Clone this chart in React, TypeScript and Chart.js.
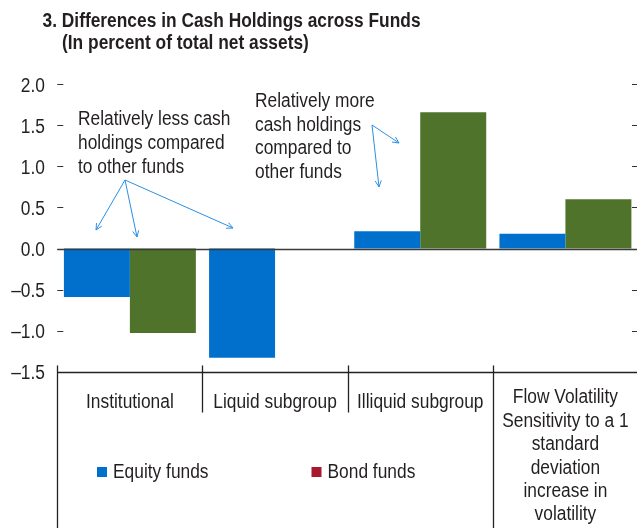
import React, { useEffect, useRef } from "react";
import { Chart, registerables } from "chart.js";

Chart.register(...registerables);

const categories = ["Institutional", "Liquid subgroup", "Illiquid subgroup", "Flow Volatility"];
const categoryLabelLines = [
  ["Institutional"],
  ["Liquid subgroup"],
  ["Illiquid subgroup"],
  ["Flow Volatility", "Sensitivity to a 1", "standard", "deviation", "increase in", "volatility"],
];
const equityValues = [-0.59, -1.33, 0.21, 0.18];
const bondValues = [-1.03, null, 1.66, 0.6];
const yTicks = [2.0, 1.5, 1.0, 0.5, 0.0, -0.5, -1.0, -1.5];
const titleLines = ["3. Differences in Cash Holdings across Funds", "(In percent of total net assets)"];
const lessNote = ["Relatively less cash", "holdings compared", "to other funds"];
const moreNote = ["Relatively more", "cash holdings", "compared to", "other funds"];
const legendLabels = ["Equity funds", "Bond funds"];

const FONT = '"Liberation Sans", Arial, sans-serif';
const SX = 0.89;
const BLUE = "#0070cc";
const GREEN = "#4f732b";
const RED = "#a6192e";
const TEXT = "#231f20";
const ARROW = "#2b8ee6";

function fmt(v: number) {
  const s = Math.abs(v).toFixed(1);
  return v < 0 ? "\u2013" + s : s;
}

function txt(ctx: CanvasRenderingContext2D, s: string, x: number, y: number, align: CanvasTextAlign) {
  ctx.save();
  ctx.translate(x, y);
  ctx.scale(SX, 1);
  ctx.textAlign = align;
  ctx.textBaseline = "alphabetic";
  ctx.fillText(s, 0, 0);
  ctx.restore();
}

function arrow(ctx: CanvasRenderingContext2D, x0: number, y0: number, x1: number, y1: number) {
  ctx.beginPath();
  ctx.moveTo(x0, y0);
  ctx.lineTo(x1, y1);
  const a = Math.atan2(y1 - y0, x1 - x0);
  const h = 7;
  const s = 0.45;
  ctx.moveTo(x1 - h * Math.cos(a - s), y1 - h * Math.sin(a - s));
  ctx.lineTo(x1, y1);
  ctx.lineTo(x1 - h * Math.cos(a + s), y1 - h * Math.sin(a + s));
  ctx.stroke();
}

const decor = {
  id: "decor",
  afterDatasetsDraw(chart: any) {
    const ctx: CanvasRenderingContext2D = chart.ctx;
    const { left, right, bottom } = chart.chartArea;
    const y = chart.scales.y;
    const x = chart.scales.x;
    ctx.save();
    // title
    ctx.fillStyle = TEXT;
    ctx.font = `bold 19.5px ${FONT}`;
    txt(ctx, titleLines[0], 42.5, 26.7, "left");
    txt(ctx, titleLines[1], 62, 49, "left");

    // y ticks
    ctx.font = `19.5px ${FONT}`;
    ctx.strokeStyle = "#333";
    ctx.lineWidth = 1;
    for (const t of yTicks) {
      const yy = y.getPixelForValue(t);
      txt(ctx, fmt(t), 45, yy + 7.5, "right");
      const py = Math.round(yy) + 0.5;
      ctx.beginPath();
      ctx.moveTo(left, py);
      ctx.lineTo(left + 6, py);
      ctx.moveTo(632, py);
      ctx.lineTo(right, py);
      ctx.stroke();
    }

    // zero line
    const zy = Math.round(y.getPixelForValue(0)) + 0.5;
    ctx.strokeStyle = "#3a3a3a";
    ctx.lineWidth = 1.3;
    ctx.beginPath();
    ctx.moveTo(left, zy);
    ctx.lineTo(right, zy);
    ctx.stroke();

    // bottom axis and separators
    const by = Math.round(bottom) + 0.5;
    ctx.lineWidth = 1.3;
    ctx.strokeStyle = "#222";
    ctx.beginPath();
    ctx.moveTo(left, by);
    ctx.lineTo(right, by);
    const catW = (right - left) / categories.length;
    for (let i = 0; i <= categories.length; i++) {
      const sx = Math.round(left + catW * i) + 0.5;
      ctx.moveTo(sx, by - 7);
      if (i === 0 || i === 3) ctx.lineTo(sx, 528);
      else ctx.lineTo(sx, by + 40);
    }
    ctx.stroke();

    // category labels
    ctx.fillStyle = TEXT;
    ctx.font = `19.5px ${FONT}`;
    categoryLabelLines.forEach((lines, i) => {
      const cx = x.getPixelForValue(i);
      const startY = lines.length > 1 ? 403.3 : 407.7;
      lines.forEach((ln, j) => txt(ctx, ln, cx, startY + j * 23.4, "center"));
    });

    // legend
    const items = [
      { c: BLUE, t: legendLabels[0], x: 97 },
      { c: RED, t: legendLabels[1], x: 311.5 },
    ];
    for (const it of items) {
      ctx.fillStyle = it.c;
      ctx.fillRect(it.x, 467, 10, 10);
      ctx.fillStyle = TEXT;
      txt(ctx, it.t, it.x + 16, 478.3, "left");
    }

    // annotations
    ctx.fillStyle = TEXT;
    lessNote.forEach((ln, j) => txt(ctx, ln, 78, 125 + j * 24, "left"));
    moreNote.forEach((ln, j) => txt(ctx, ln, 255, 107 + j * 23.6, "left"));

    ctx.strokeStyle = ARROW;
    ctx.lineWidth = 1;
    arrow(ctx, 125, 180, 96, 230);
    arrow(ctx, 125, 180, 137, 237);
    arrow(ctx, 125, 180, 233, 228);
    arrow(ctx, 372, 125, 399, 143);
    arrow(ctx, 372, 125, 379, 187);
    ctx.restore();
  },
};

export default function App() {
  const ref = useRef<HTMLCanvasElement | null>(null);
  useEffect(() => {
    if (!ref.current) return;
    const chart = new Chart(ref.current, {
      type: "bar",
      data: {
        labels: categories,
        datasets: [
          { label: legendLabels[0], data: equityValues, backgroundColor: BLUE, categoryPercentage: 0.909, barPercentage: 1 },
          { label: legendLabels[1], data: bondValues as any, backgroundColor: GREEN, categoryPercentage: 0.909, barPercentage: 1 },
        ],
      },
      options: {
        responsive: false,
        animation: false,
        layout: { padding: { left: 57.3, right: 7, top: 84.3, bottom: 156.3 } },
        plugins: { legend: { display: false }, tooltip: { enabled: false } },
        scales: {
          x: { display: false },
          y: { display: false, min: -1.5, max: 2.0 },
        },
      },
      plugins: [decor],
    });
    return () => chart.destroy();
  }, []);
  return (
    <div style={{ position: "fixed", left: 0, top: 0, width: 637, height: 528, overflow: "hidden", background: "#fff" }}>
      <canvas ref={ref} width={645} height={528} style={{ width: 645, height: 528, display: "block" }} />
    </div>
  );
}
